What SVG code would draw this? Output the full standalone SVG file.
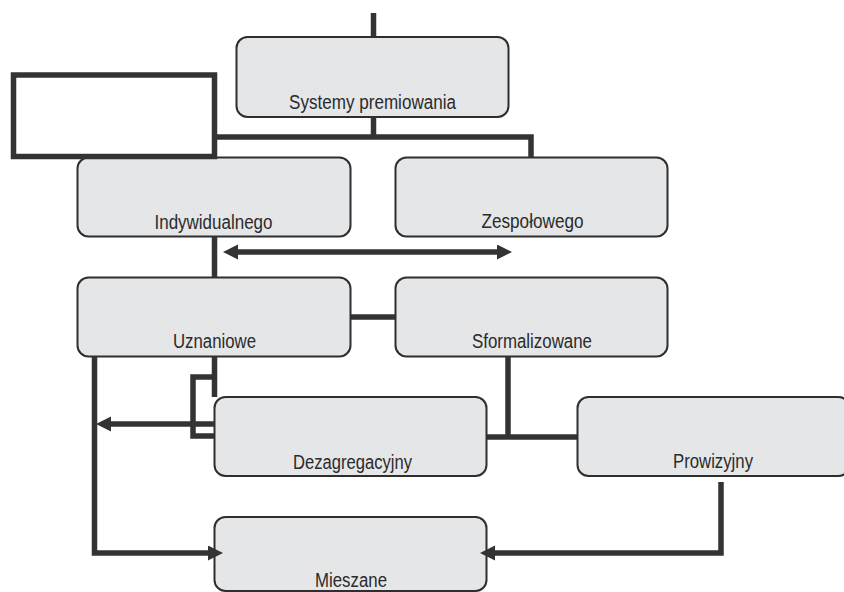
<svg xmlns="http://www.w3.org/2000/svg" width="844" height="592" viewBox="0 0 844 592">
<style>
.box{fill:#e5e6e8;stroke:#2e2e2e;stroke-width:2}
.lbl{font-family:"Liberation Sans",Arial,sans-serif;font-size:20px;fill:#2b2b2b;text-anchor:middle}
.ln{fill:none;stroke:#333333;stroke-width:5.5;stroke-linejoin:miter;stroke-linecap:butt}
</style>
<defs>
<marker id="ah" markerUnits="userSpaceOnUse" markerWidth="16" markerHeight="16" viewBox="0 0 16 16" refX="7" refY="7.5" orient="auto-start-reverse">
<path d="M0,0 L15,7.5 L0,15 z" fill="#333333"/>
</marker>
</defs>
<rect width="844" height="592" fill="#ffffff"/>
<g id="nodes">
<g id="n-systemy"><rect class="box" x="236.5" y="37" width="272" height="80" rx="11"/><text class="lbl" x="372.5" y="109" textLength="167" lengthAdjust="spacingAndGlyphs">Systemy premiowania</text></g>
<g id="n-indywidualnego"><rect class="box" x="77.5" y="157.5" width="273" height="79" rx="11"/><text class="lbl" x="213.5" y="229" textLength="118" lengthAdjust="spacingAndGlyphs">Indywidualnego</text></g>
<g id="n-zespolowego"><rect class="box" x="395.5" y="157.5" width="272" height="79" rx="11"/><text class="lbl" x="532.5" y="228" textLength="102" lengthAdjust="spacingAndGlyphs">Zespołowego</text></g>
<g id="n-uznaniowe"><rect class="box" x="77.5" y="277.5" width="273" height="79" rx="11"/><text class="lbl" x="214.5" y="348" textLength="83" lengthAdjust="spacingAndGlyphs">Uznaniowe</text></g>
<g id="n-sformalizowane"><rect class="box" x="395.5" y="277.5" width="272" height="79" rx="11"/><text class="lbl" x="532" y="348" textLength="120" lengthAdjust="spacingAndGlyphs">Sformalizowane</text></g>
<g id="n-dezagregacyjny"><rect class="box" x="214.5" y="397" width="272" height="79" rx="11"/><text class="lbl" x="352.5" y="469" textLength="119" lengthAdjust="spacingAndGlyphs">Dezagregacyjny</text></g>
<g id="n-prowizyjny"><rect class="box" x="577.5" y="397" width="272" height="79" rx="11"/><text class="lbl" x="713" y="468" textLength="80" lengthAdjust="spacingAndGlyphs">Prowizyjny</text></g>
<g id="n-mieszane"><rect class="box" x="214.5" y="517" width="272" height="74" rx="11"/><text class="lbl" x="351" y="587" textLength="72" lengthAdjust="spacingAndGlyphs">Mieszane</text></g>
</g>
<g id="connectors">
<path class="ln" d="M373.5 13 V37"/>
<path class="ln" d="M373.5 117 V137"/>
<path class="ln" d="M214.5 137 H531 V157"/>
<rect class="ln" x="13.5" y="75" width="201" height="81.5"/>
<path class="ln" d="M214.5 237 V277"/>
<path class="ln" d="M231 252 H504" marker-start="url(#ah)" marker-end="url(#ah)"/>
<path class="ln" d="M351 317 H395"/>
<path class="ln" d="M94.5 357 V553 H215" marker-end="url(#ah)"/>
<path class="ln" d="M214.5 357 V397"/>
<path class="ln" d="M214.5 377 H193 V436 H214.5"/>
<path class="ln" d="M214 424 H104" marker-end="url(#ah)"/>
<path class="ln" d="M508 357 V437"/>
<path class="ln" d="M487 437 H577"/>
<path class="ln" d="M721 482 V553 H488" marker-end="url(#ah)"/>
</g>
</svg>
